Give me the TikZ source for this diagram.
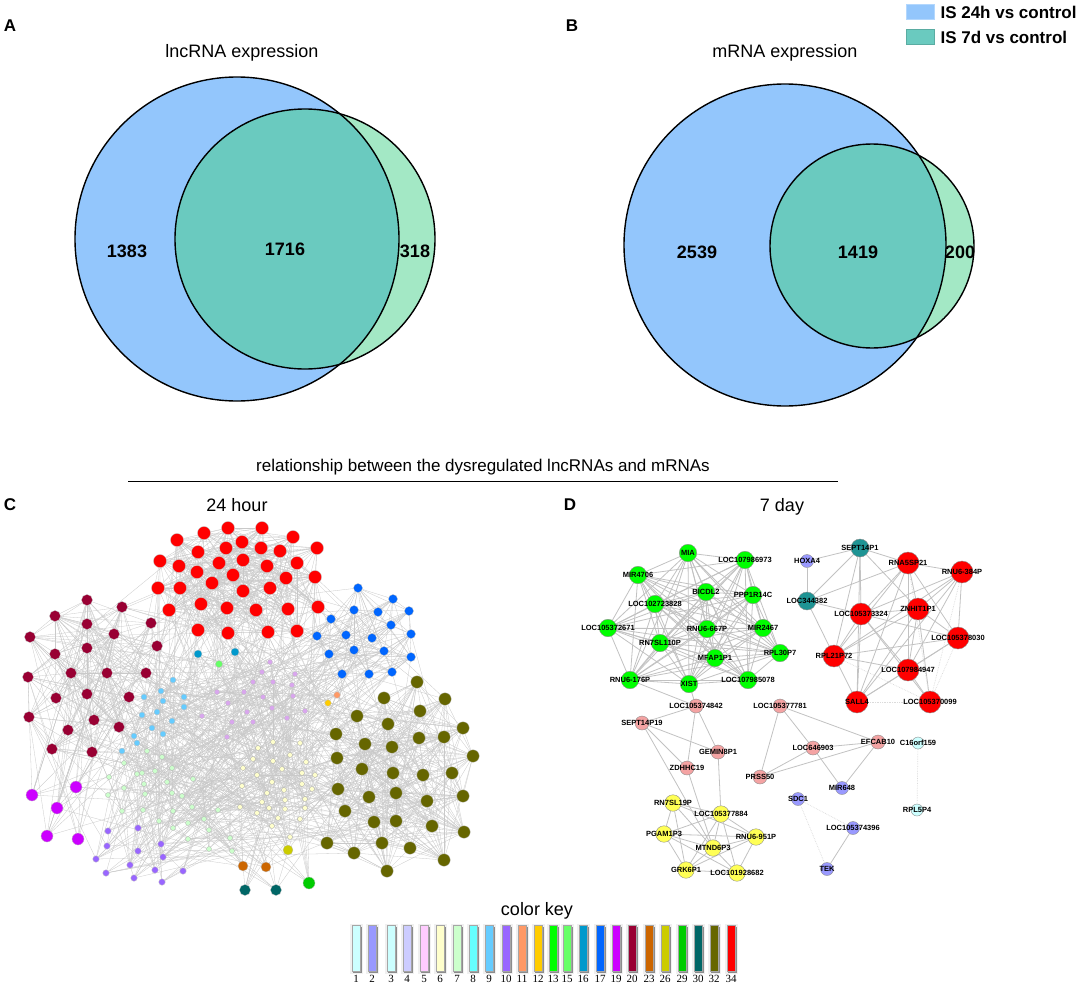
\documentclass[tikz,border=0pt]{standalone}
\usepackage{fontspec}
\setmainfont{Liberation Sans}
\newfontfamily\keyserif{Liberation Serif}
\pgfdeclarelayer{bgpaper}
\pgfdeclarelayer{edges}
\pgfsetlayers{bgpaper,edges,main}
\definecolor{vblue}{HTML}{93C6FC}
\definecolor{vteal}{HTML}{6ACABF}
\definecolor{vgreen}{HTML}{A3E8C5}
\definecolor{k1}{HTML}{CCFFFF}
\definecolor{k2}{HTML}{9999FF}
\definecolor{k3}{HTML}{CCFFFF}
\definecolor{k4}{HTML}{CCCCFF}
\definecolor{k5}{HTML}{FFCCFF}
\definecolor{k6}{HTML}{FFFFCC}
\definecolor{k7}{HTML}{CCFFCC}
\definecolor{k8}{HTML}{66FFFF}
\definecolor{k9}{HTML}{66CCFF}
\definecolor{k10}{HTML}{9966FF}
\definecolor{k11}{HTML}{FF9966}
\definecolor{k12}{HTML}{FFCC00}
\definecolor{k13}{HTML}{00FF00}
\definecolor{k15}{HTML}{66FF66}
\definecolor{k16}{HTML}{0099CC}
\definecolor{k17}{HTML}{0066FF}
\definecolor{k19}{HTML}{CC00FF}
\definecolor{k20}{HTML}{990033}
\definecolor{k23}{HTML}{CC6600}
\definecolor{k26}{HTML}{CCCC00}
\definecolor{k29}{HTML}{00CC00}
\definecolor{k30}{HTML}{006666}
\definecolor{k32}{HTML}{666600}
\definecolor{k34}{HTML}{FF0000}
\definecolor{lav}{HTML}{D9A6EE}
\definecolor{dpink}{HTML}{F4A3A3}
\definecolor{dteal}{HTML}{1E9494}
\definecolor{dyellow}{HTML}{FFFF55}
\newcommand\mkedges[3]{%
  \pgfmathtruncatemacro\mkend{#2-1}%
  \foreach \i in {#1,...,\mkend}{%
    \pgfmathtruncatemacro\ni{\i+1}%
    \foreach \j in {\ni,...,#2}{%
      \pgfmathtruncatemacro\ok{rnd<#3}%
      \ifnum\ok=1 \draw[cedge] (n\i)--(n\j);\fi
    }%
  }%
}
\def\Dgreen{g1/688/553/MIA, g2/745/560/LOC107986973, g3/638/575/MIR4706, g4/706/592/BICDL2, g5/753/595/PPP1R14C, g6/655/604/LOC102723828, g7/608/628/LOC105372671, g8/707/629/RNU6-667P, g9/763/628/MIR2467, g10/660/643/RN7SL110P, g11/715/658/MFAP1P1, g12/780/653/RPL30P7, g13/630/680/RNU6-176P, g14/689/684/XIST, g15/748/680/LOC107985078}
\def\Dred{r1/908/563/RNA5SP21, r2/962/572/RNU6-384P, r3/861/614/LOC105373324, r4/918/609/ZNHIT1P1, r5/958/638/LOC105378030, r6/834/656/RPL21P72, r7/908/670/LOC107984947, r8/857/702/SALL4, r9/930/702/LOC105370099}
\def\Dteal{t1/860/548/SEPT14P1, t2/807/601/LOC344382}
\def\Dpurple{u1/807/561/HOXA4, u2/842/788/MIR648, u3/798/799/SDC1, u4/853/828/LOC105374396, u5/827/869/TEK}
\def\Dpink{p1/696/706/LOC105374842, p2/642/723/SEPT14P19, p3/718/752/GEMIN8P1, p4/687/768/ZDHHC19, p5/780/706/LOC105377781, p6/813/748/LOC646903, p7/878/742/EFCAB10, p8/760/777/PRSS50}
\def\Dyellow{y1/673/803/RN7SL19P, y2/721/814/LOC105377884, y3/664/834/PGAM1P3, y4/756/837/RNU6-951P, y5/713/848/MTND6P3, y6/686/870/GRK6P1, y7/737/873/LOC101928682}
\def\Dcyan{c1/918/743/C16orf159, c2/917/810/RPL5P4}
\begin{document}
\begin{tikzpicture}[x=1pt,y=-1pt,
  cedge/.style={draw=black!21, line width=0.3pt},
  dedge/.style={draw=black!24, line width=0.8pt},
  dfaint/.style={draw=black!14, line width=0.7pt, densely dotted},
  cn/.style={circle, draw=black!25, line width=0.3pt, inner sep=0pt},
  dn/.style={circle, draw=black!45, line width=0.4pt, inner sep=0pt},
  dl/.style={font=\fontsize{7.5}{8}\selectfont\bfseries, inner sep=0pt},
  title/.style={font=\fontsize{18}{20}\selectfont},
  num/.style={font=\fontsize{18}{20}\selectfont\bfseries},
  plabel/.style={font=\fontsize{17}{19}\selectfont\bfseries},
  legtext/.style={font=\fontsize{17}{19}\selectfont\bfseries, anchor=west},
  keybar/.style={draw=black!35, line width=0.3pt}
]
\useasboundingbox (0,0) rectangle (1084,985);
\begin{pgfonlayer}{bgpaper}
\fill[white] (0,0) rectangle (1084,985);
\end{pgfonlayer}

% ---------------- Panel A ----------------
\node[plabel] (labA) at (10,26) {A};
\node[title] (titA) at (242,53) {lncRNA expression};
\fill[vblue] (237,239) circle (162pt);
\fill[vgreen] (305,239) circle (130pt);
\begin{scope}
  \clip (237,239) circle (162pt);
  \fill[vteal] (305,239) circle (130pt);
\end{scope}
\draw[line width=1.4pt] (237,239) circle (162pt);
\draw[line width=1.4pt] (305,239) circle (130pt);
\node[num] (nA1) at (127,251) {1383};
\node[num] (nA2) at (285,249) {1716};
\node[num] (nA3) at (415,251) {318};

% ---------------- Panel B ----------------
\node[plabel] (labB) at (572,26) {B};
\node[title] (titB) at (785,53) {mRNA expression};
\fill[vblue] (785,245) circle (161pt);
\fill[vgreen] (872,246) circle (102pt);
\begin{scope}
  \clip (785,245) circle (161pt);
  \fill[vteal] (872,246) circle (102pt);
\end{scope}
\draw[line width=1.4pt] (785,245) circle (161pt);
\draw[line width=1.4pt] (872,246) circle (102pt);
\node[num] (nB1) at (697,252) {2539};
\node[num] (nB2) at (858,252) {1419};
\node[num] (nB3) at (960,252) {200};

% legend
\node[draw=vblue!70!white, fill=vblue, minimum width=28pt, minimum height=15pt, inner sep=0pt] (legb) at (920,12) {};
\node[legtext] (legbt) at (937,12) {IS 24h vs control};
\node[draw=vteal!85!black, fill=vteal, minimum width=28pt, minimum height=15pt, inner sep=0pt] (legg) at (920,37) {};
\node[legtext] (leggt) at (937,37) {IS 7d vs control};

% ---------------- middle title ----------------
\node[font=\fontsize{17}{19}\selectfont] (midt) at (483,467) {relationship between the dysregulated lncRNAs and mRNAs};
\coordinate (ml) at (128,481);
\coordinate (mr) at (838,481);
\draw[line width=1pt] (ml) -- (mr);

% ---------------- Panel C ----------------
\node[plabel] (labC) at (10,505) {C};
\node[title] (titC) at (237,505) {24 hour};

% red cluster 1-36
\foreach \x/\y [count=\i from 1] in {228/528,262/528,204/533,177/540,293/537,317/548,198/552,226/548,242/542,261/548,280/551,160/561,179/566,219/563,243/560,267/566,297/563,197/572,233/575,212/583,286/578,315/577,158/588,180/588,243/591,270/588,169/610,201/604,227/608,256/610,288/609,318/607,198/630,228/633,268/632,297/631}
  \node[cn, fill=k34, minimum size=13pt] (n\i) at (\x,\y) {};
% dark red 37-59
\foreach \x/\y [count=\i from 37] in {55/616,87/600,122/607,30/637,87/624,114/634,151/623,157/646,55/654,87/648,28/677,71/673,107/673,146/673,56/698,87/694,129/697,29/717,94/720,68/730,119/727,52/749,92/752}
  \node[cn, fill=k20, minimum size=11pt] (n\i) at (\x,\y) {};
% blue 60-77
\foreach \x/\y [count=\i from 60] in {358/588,393/599,354/610,378/612,409/611,331/619,391/625,411/634,317/636,346/635,372/638,329/654,354/650,384/651,411/657,342/674,369/674,392/672}
  \node[cn, fill=k17, minimum size=9pt] (n\i) at (\x,\y) {};
% olive 78-111
\foreach \x/\y [count=\i from 78] in {417/682,384/698,445/699,420/711,357/716,388/724,463/728,336/734,365/744,392/747,419/738,444/737,473/756,337/758,362/769,393/773,423/775,452/773,338/789,369/797,396/793,427/801,463/796,345/811,374/822,396/821,432/826,464/832,327/843,382/843,410/848,354/853,387/871,444/860}
  \node[cn, fill=k32, minimum size=12.5pt] (n\i) at (\x,\y) {};
% magenta 112-116
\foreach \x/\y [count=\i from 112] in {32/795,76/787,57/808,47/836,78/839}
  \node[cn, fill=k19, minimum size=12pt] (n\i) at (\x,\y) {};
% medium 117-127
\foreach \x/\y/\c/\s [count=\i from 117] in {198/654/k16/8pt,235/652/k16/8pt,219/664/k15/7pt,337/695/k11/6.5pt,328/703/k12/6.5pt,288/850/k26/10pt,243/866/k23/10pt,266/867/k23/10pt,309/883/k29/12pt,245/890/k30/11pt,276/890/k30/11pt}
  \node[cn, fill=\c, minimum size=\s] (n\i) at (\x,\y) {};
% light blue 128-141
\foreach \x/\y [count=\i from 128] in {173/680,161/691,144/697,163/701,184/697,184/707,157/712,142/715,172/721,152/728,163/734,134/736,137/743,122/751}
  \node[cn, fill=k9, minimum size=6pt] (n\i) at (\x,\y) {};
% light green 142-171
\foreach \x/\y [count=\i from 142] in {147/751,162/757,124/763,142/773,155/771,172/768,109/777,137/774,144/784,167/782,193/779,124/788,145/794,172/793,182/796,108/795,122/811,143/810,173/811,192/807,204/819,218/810,159/821,173/828,188/823,188/839,209/830,230/838,209/849,232/851}
  \node[cn, fill=k7, draw=black!30, minimum size=5pt] (n\i) at (\x,\y) {};
% purple 172-184
\foreach \x/\y [count=\i from 172] in {108/831,138/828,107/846,138/851,161/844,163/857,96/859,130/865,106/873,155/870,183/871,134/878,162/882}
  \node[cn, fill=k10, minimum size=6.5pt] (n\i) at (\x,\y) {};
% lavender 185-203
\foreach \x/\y [count=\i from 185] in {270/662,262/672,295/674,253/682,273/682,292/685,217/692,244/692,263/697,293/696,228/703,247/712,272/708,305/711,202/716,287/718,232/722,253/722,227/737}
  \node[cn, fill=lav, minimum size=5pt] (n\i) at (\x,\y) {};
% light yellow 204-233
\foreach \x/\y [count=\i from 204] in {273/742,300/743,258/748,290/755,253/759,273/761,306/762,243/768,282/769,302/773,257/775,315/775,272/782,242/786,302/784,267/793,284/790,312/789,262/802,285/800,305/799,240/807,269/808,285/809,305/808,257/813,278/818,300/819,272/826,290/837}
  \node[cn, fill=k6, draw=black!35, minimum size=5pt] (n\i) at (\x,\y) {};

\begin{pgfonlayer}{edges}
\pgfmathsetseed{4242}
\mkedges{1}{36}{0.4}
\mkedges{37}{59}{0.42}
\mkedges{60}{77}{0.4}
\mkedges{78}{111}{0.4}
\foreach \i in {112,...,116}{\foreach \k in {1,...,6}{\pgfmathtruncatemacro\jj{random(37,59)}\draw[cedge] (n\i)--(n\jj);}}
\foreach \i in {117,...,233}{\foreach \k in {1,2,3,4}{\pgfmathtruncatemacro\jj{random(1,233)}\ifnum\jj=\i\else\draw[cedge] (n\i)--(n\jj);\fi}}
\foreach \i in {1,...,111}{\foreach \k in {1,2}{\pgfmathtruncatemacro\jj{random(1,233)}\ifnum\jj=\i\else\draw[cedge] (n\i)--(n\jj);\fi}}
\end{pgfonlayer}

% ---------------- Panel D ----------------
\node[plabel] (labD) at (570,505) {D};
\node[title] (titD) at (782,507) {7 day};

\foreach \n/\x/\y/\t in \Dgreen {\node[dn, fill=k13, minimum size=17.5pt] (\n) at (\x,\y) {};}
\foreach \n/\x/\y/\t in \Dred {\node[dn, fill=k34, minimum size=22pt] (\n) at (\x,\y) {};}
\foreach \n/\x/\y/\t in \Dteal {\node[dn, fill=dteal, minimum size=18pt] (\n) at (\x,\y) {};}
\foreach \n/\x/\y/\t in \Dpurple {\node[dn, fill=k2, minimum size=13pt] (\n) at (\x,\y) {};}
\foreach \n/\x/\y/\t in \Dpink {\node[dn, fill=dpink, minimum size=14pt] (\n) at (\x,\y) {};}
\foreach \n/\x/\y/\t in \Dyellow {\node[dn, fill=dyellow, minimum size=16.5pt] (\n) at (\x,\y) {};}
\foreach \n/\x/\y/\t in \Dcyan {\node[dn, fill=k1, minimum size=12pt] (\n) at (\x,\y) {};}

\begin{pgfonlayer}{edges}
\foreach \i in {1,...,14}{\pgfmathtruncatemacro\ni{\i+1}\foreach \j in {\ni,...,15}{\draw[dedge] (g\i)--(g\j);}}
\foreach \a/\b in {r1/r2,r1/r3,r1/r4,r1/r5,r1/r6,r1/r7,r1/r8,r2/r3,r2/r4,r2/r5,r2/r6,r2/r7,r2/r8,r3/r4,r3/r5,r3/r6,r3/r7,r3/r8,r4/r5,r4/r6,r4/r7,r4/r8,r5/r6,r5/r7,r5/r8,r6/r7,r6/r8,r7/r8,r7/r9,r3/r9,r4/r9,
  t1/u1,t1/r1,t1/r3,t1/r4,t1/t2,t1/r8,t1/r6,t2/u1,t2/r6,t2/r3,t2/r1,
  g13/p1,g14/p1,p1/p2,p1/p3,p1/p4,p2/p3,p2/p4,p2/y5,p4/y5,p3/y2,
  p5/p8,p5/p6,p5/p7,p6/p7,p6/p8,p7/p8,p6/u2,p7/u2,u4/u5,
  y1/y2,y1/y3,y1/y4,y1/y5,y1/y6,y2/y3,y2/y4,y2/y5,y2/y6,y2/y7,y3/y4,y3/y5,y3/y6,y3/y7,y4/y5,y4/y7,y5/y6,y5/y7,y6/y7,y4/y6}
  \draw[dedge] (\a)--(\b);
\foreach \a/\b in {r8/r9,r2/r9,r5/r9,r6/r9,r1/r9,u3/u4,u3/u5,c1/c2}
  \draw[dfaint] (\a)--(\b);
\end{pgfonlayer}

\foreach \n/\x/\y/\t in \Dgreen {\node[dl] (lbl\n) at (\n) {\t};}
\foreach \n/\x/\y/\t in \Dred {\node[dl] (lbl\n) at (\n) {\t};}
\foreach \n/\x/\y/\t in \Dteal {\node[dl] (lbl\n) at (\n) {\t};}
\foreach \n/\x/\y/\t in \Dpurple {\node[dl] (lbl\n) at (\n) {\t};}
\foreach \n/\x/\y/\t in \Dpink {\node[dl] (lbl\n) at (\n) {\t};}
\foreach \n/\x/\y/\t in \Dyellow {\node[dl] (lbl\n) at (\n) {\t};}
\foreach \n/\x/\y/\t in \Dcyan {\node[dl] (lbl\n) at (\n) {\t};}

% ---------------- color key ----------------
\node[font=\fontsize{18}{20}\selectfont] (ckey) at (537,911) {color key};
\foreach \x/\c/\t [count=\i] in {356/k1/1,372/k2/2,391/k3/3,407/k4/4,424/k5/5,440/k6/6,457/k7/7,473/k8/8,489/k9/9,506/k10/10,522/k11/11,538/k12/12,553/k13/13,567/k15/15,583/k16/16,600/k17/17,616/k19/19,632/k20/20,649/k23/23,665/k26/26,682/k29/29,698/k30/30,714/k32/32,731/k34/34}{
  \fill[black!6] (\x-6,924) rectangle (\x+7,974);
  \fill[black!45] (\x-3.3,926.5) rectangle (\x+5.6,973);
  \node[keybar, fill=\c, minimum width=8.6pt, minimum height=46pt, inner sep=0pt] (kb\i) at (\x,948.5) {};
  \node[font=\keyserif\fontsize{11}{12}\selectfont, inner sep=0pt] (kt\i) at (\x,979) {\t};
}
\end{tikzpicture}
\end{document}
